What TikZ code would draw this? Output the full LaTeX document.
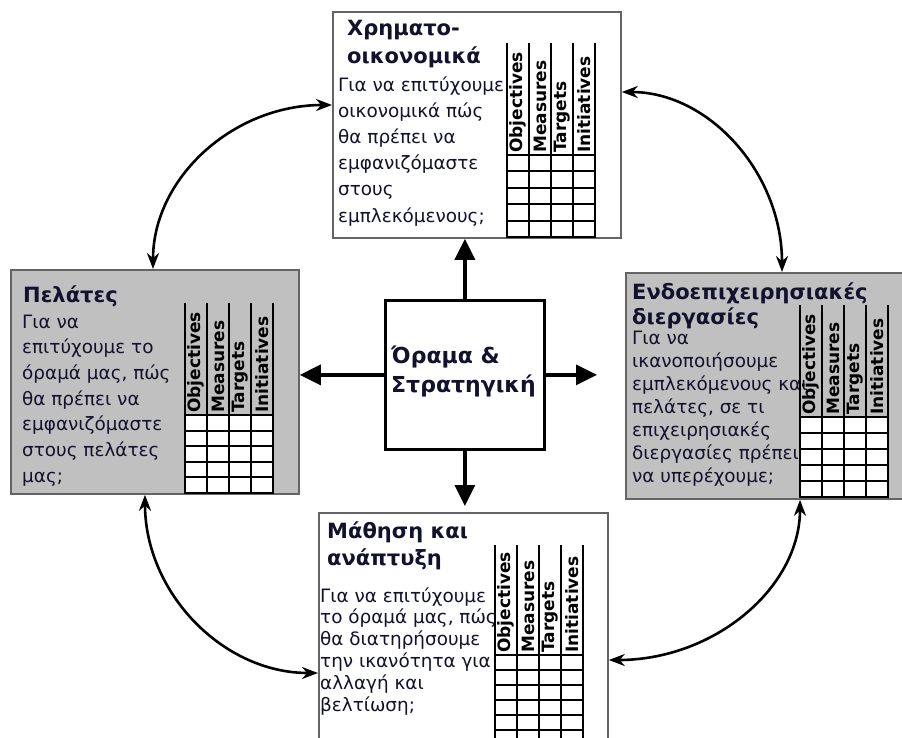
\documentclass[tikz,border=0pt]{standalone}
\usepackage{fontspec}
\setmainfont{DejaVu Sans}
\usetikzlibrary{arrows.meta,calc}

\definecolor{ink}{HTML}{12122E}
\definecolor{panelgray}{HTML}{C0C0C0}
\definecolor{frame}{HTML}{646464}

\tikzset{
  panel/.style={rectangle, draw=frame, line width=1.8pt, inner sep=0pt, anchor=north west},
  hub/.style={rectangle, draw=black, line width=2.8pt, fill=white, inner sep=0pt, anchor=north west},
  bodytext/.style={inner sep=0pt, anchor=base west, text=ink, font=\fontsize{18.4}{22}\selectfont},
  titletext/.style={inner sep=0pt, anchor=base west, text=ink, font=\bfseries\fontsize{21}{25}\selectfont},
  hubtext/.style={inner sep=0pt, anchor=base west, text=ink, font=\bfseries\fontsize{22}{26}\selectfont},
  colhead/.style={inner sep=0pt, rotate=90, anchor=west, text=black, font=\bfseries\fontsize{17}{17}\selectfont},
  gridline/.style={draw=black, line width=1.9pt},
  spokearrow/.style={draw=black, line width=3.2pt, -{Triangle[length=21pt,width=20pt]}},
  cyclearrow/.style={draw=black, line width=2.6pt,
    {Stealth[length=16pt,width=12pt]}-{Stealth[length=16pt,width=12pt]}},
}

% lines of text, one node per line: prefix, x, first baseline, spacing, style, list
\newcommand\textlines[6]{%
  \foreach \lineText [count=\k] in {#6}
    \node[#5] (#1\k) at (#2, {#3+(\k-1)*#4}) {\lineText};%
}

% scorecard table: prefix, left x, header top, header bottom, row height, rows
\newcommand\scoretable[6]{%
  \fill[white] (#2,#4) rectangle ({#2+88},{#4+#6*#5});
  \foreach \c in {0,...,4}
    \draw[gridline] ({#2+\c*22},#3) -- ({#2+\c*22},{#4+#6*#5});
  \foreach \r in {0,...,#6}
    \draw[gridline] ({#2-0.95},{#4+\r*#5}) -- ({#2+88.95},{#4+\r*#5});
  \foreach \h [count=\c] in {Objectives,Measures,Targets,Initiatives}
    \node[colhead] (#1h\c) at ({#2+(\c-0.5)*22},{#4-2}) {\h};%
}

\begin{document}
\begin{tikzpicture}[x=1pt, y=-1pt]
  \clip (0,0) rectangle (902,737);
  \fill[white] (0,0) rectangle (902,737);

  % the four perspectives and the hub
  \node[panel, fill=white,     minimum width=288pt, minimum height=226pt] (tbox) at (332,11) {};
  \node[panel, fill=panelgray, minimum width=288pt, minimum height=224pt] (lbox) at (10,269) {};
  \node[panel, fill=panelgray, minimum width=288pt, minimum height=226pt] (rbox) at (625,272) {};
  \node[panel, fill=white,     minimum width=289pt, minimum height=240pt] (bbox) at (318,512) {};
  \node[hub, minimum width=159pt, minimum height=149pt] (ctr) at (384,299) {};

  % financial
  \textlines{tt}{347}{35}{28}{titletext}{Χρηματο-,οικονομικά}
  \textlines{tb}{338}{91}{26.2}{bodytext}{Για να επιτύχουμε,οικονομικά πώς,θα πρέπει να,εμφανιζόμαστε,στους,εμπλεκόμενους;}
  \scoretable{tq}{507}{43}{155}{16.4}{5}

  % customers
  \textlines{lt}{23}{302}{26}{titletext}{Πελάτες}
  \textlines{lb}{22}{328}{25.7}{bodytext}{Για να,επιτύχουμε το,{όραμά μας, πώς},θα πρέπει να,εμφανιζόμαστε,στους πελάτες,μας;}
  \scoretable{lq}{185}{303}{415}{15.6}{5}

  % internal processes
  \textlines{rt}{632}{299}{25}{titletext}{Ενδοεπιχειρησιακές,διεργασίες}
  \textlines{rb}{632}{344}{23}{bodytext}{Για να,ικανοποιήσουμε,εμπλεκόμενους και,{πελάτες, σε τι},επιχειρησιακές,διεργασίες πρέπει,να υπερέχουμε;}
  \scoretable{rq}{800}{305}{417}{16}{5}

  % learning and growth
  \textlines{bt}{327}{538}{27}{titletext}{Μάθηση και,ανάπτυξη}
  \textlines{bb}{320}{602}{21.8}{bodytext}{Για να επιτύχουμε,{το όραμά μας, πώς},θα διατηρήσουμε,την ικανότητα για,αλλαγή και,βελτίωση;}
  \scoretable{bq}{495}{545}{655}{15}{6}

  % vision and strategy
  \node[hubtext] (ctr1) at (391,363) {Όραμα \&};
  \node[hubtext] (ctr2) at (391,392) {Στρατηγική};

  % spokes from the hub
  \draw[spokearrow] (ctr.north) -- (ctr.north |- tbox.south);
  \draw[spokearrow, shorten >=6pt] (ctr.south) -- (ctr.south |- bbox.north);
  \draw[spokearrow] (ctr.west) -- (ctr.west -| lbox.east);
  \draw[spokearrow, shorten >=28pt] (ctr.east) -- (ctr.east -| rbox.west);

  % cycle between the perspectives
  \draw[cyclearrow] ($(tbox.north west)+(0,94)$) .. controls (233,105) and (153,178) .. ($(lbox.north west)+(143,0)$);
  \draw[cyclearrow] ($(tbox.north east)+(0,81)$) .. controls (709,92) and (782,173) .. ($(rbox.north west)+(157,0)$);
  \draw[cyclearrow] ($(rbox.south west)+(175,0)$) .. controls (800,588) and (714,660) .. ($(bbox.north east)+(0,148)$);
  \draw[cyclearrow] ($(lbox.south west)+(135,0)$) .. controls (145,592) and (222,673) .. ($(bbox.north west)+(0,161)$);
\end{tikzpicture}
\end{document}
